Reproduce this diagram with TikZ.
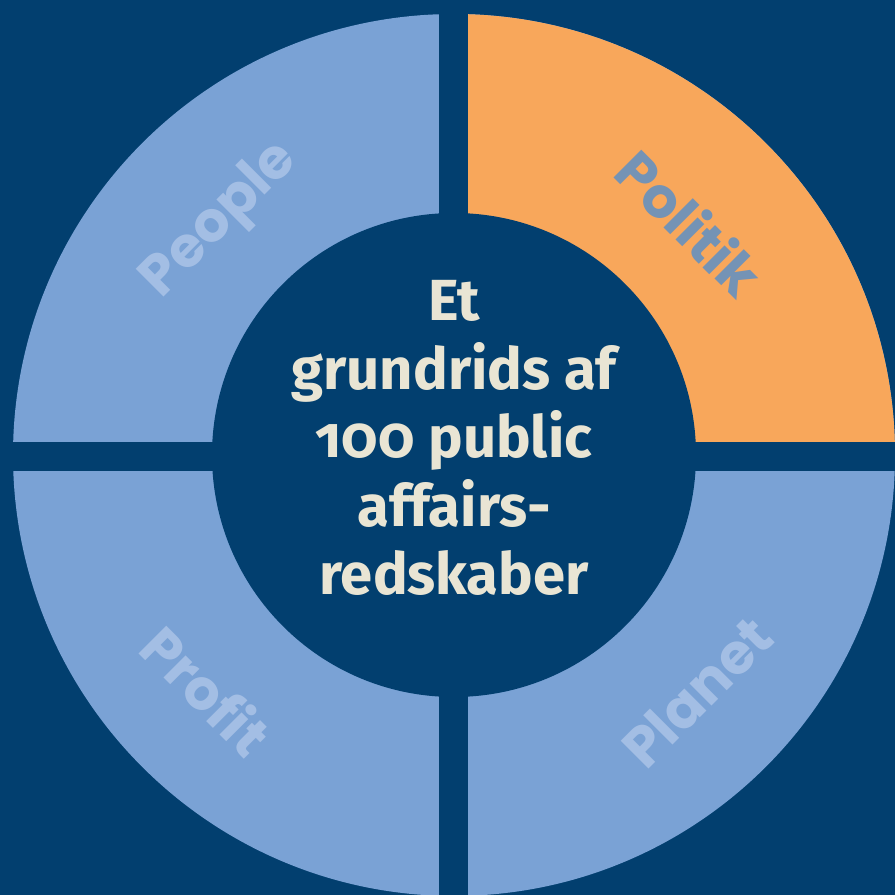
\documentclass[tikz,border=0pt]{standalone}
\usepackage{fontspec}
\setmainfont{Fira Sans}[Numbers=OldStyle]
\newfontfamily\labfont{Poppins}
\definecolor{navy}{HTML}{023F6F}
\definecolor{lightblue}{HTML}{7AA2D5}
\definecolor{labblue}{HTML}{A3BEE4}
\definecolor{orangeq}{HTML}{F8A75B}
\definecolor{polblue}{HTML}{7493B5}
\definecolor{cream}{HTML}{E9E5D4}
\tikzset{
  quadlabel/.style={font=\labfont\bfseries\fontsize{56}{64}\selectfont, inner sep=0pt},
  centertext/.style={font=\bfseries\fontsize{58}{68.5}\selectfont, text=cream, align=center, inner sep=0pt}
}
\begin{document}
\begin{tikzpicture}[x=1pt,y=1pt]
\useasboundingbox (0,0) rectangle (895,895);
\fill[navy] (0,0) rectangle (895,895);
\coordinate (c) at (454,440);
\fill[lightblue] (c) circle[radius=441];
\fill[orangeq] (c) -- ++(441,0) arc[start angle=0,end angle=90,radius=441] -- cycle;
\fill[navy] (439,0) rectangle (468,895);
\fill[navy] (0,424) rectangle (895,453);
\fill[navy] (c) circle[radius=242];
\node[quadlabel, text=labblue, rotate=45] (people) at (221,674) {People};
\node[quadlabel, text=polblue, rotate=-45] (politik) at (690,672) {Politik};
\node[quadlabel, text=labblue, rotate=-45] (profit) at (207,205) {Profit};
\node[quadlabel, text=labblue, rotate=45] (planet) at (697,203) {Planet};
\node[centertext, anchor=base] (title) at (454,300) {Et\\grundrids af\\100 public\\affairs-\\redskaber};
\end{tikzpicture}
\end{document}
